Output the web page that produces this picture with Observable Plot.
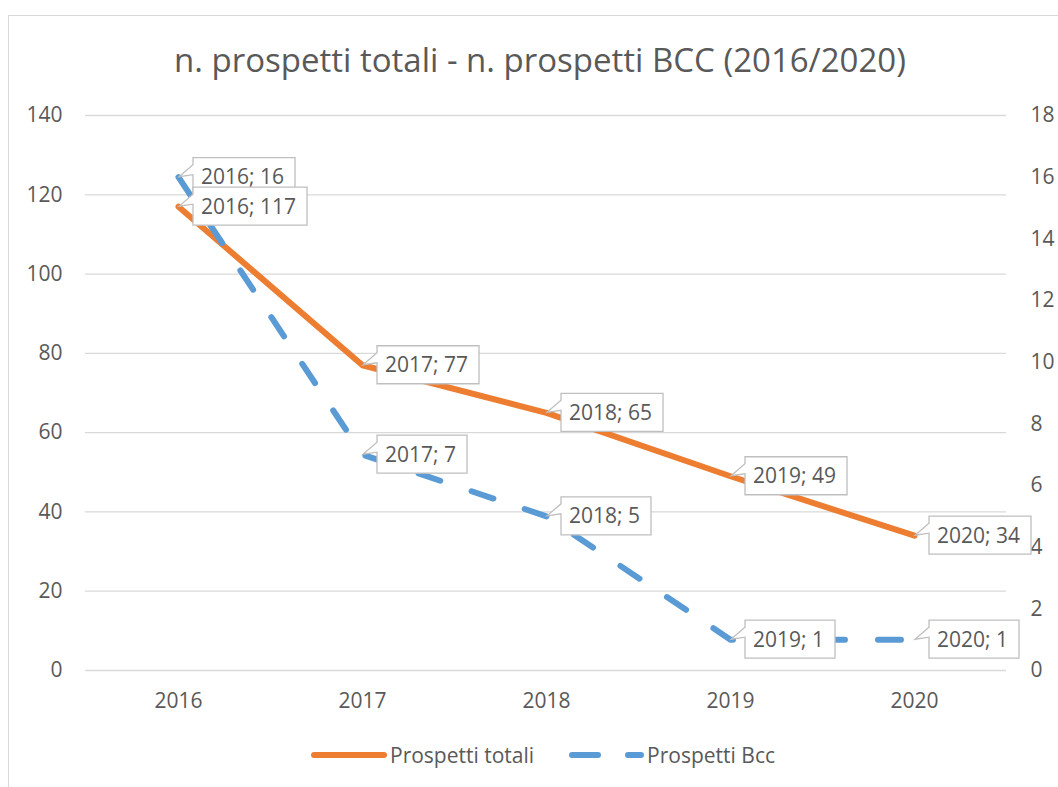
<!DOCTYPE html>
<html><head><meta charset="utf-8">
<script src="https://cdn.jsdelivr.net/npm/d3@7"></script>
<script src="https://cdn.jsdelivr.net/npm/@observablehq/plot@0.6"></script>
<style>
html,body{margin:0;padding:0;background:#fff;}
#wrap{position:relative;width:1058px;height:787px;overflow:hidden;font-family:'Open Sans',sans-serif;color:#595959;}
#border{position:absolute;left:8px;top:15px;width:1100px;height:900px;border:1.3px solid #d9d9d9;box-sizing:border-box;}
#title{position:absolute;left:0;width:1080px;top:43px;text-align:center;font-size:33px;line-height:1;white-space:nowrap;}
#chart{position:absolute;left:0;top:0;}
#legend{position:absolute;left:311px;top:743px;height:24px;display:flex;align-items:center;font-size:21px;line-height:1;white-space:nowrap;}
#legend svg{display:block;}
</style></head>
<body>
<div id="wrap">
  <div id="border"></div>
  <div id="title">n. prospetti totali - n. prospetti BCC (2016/2020)</div>
  <div id="chart"></div>
  <div id="legend"></div>
</div>
<script>
const years = ["2016", "2017", "2018", "2019", "2020"];
const totali = [117, 77, 65, 49, 34];
const bcc = [16, 7, 5, 1, 1];
const leftTicks = [0, 20, 40, 60, 80, 100, 120, 140];
const rightTicks = [0, 2, 4, 6, 8, 10, 12, 14, 16, 18];
const seriesNames = ["Prospetti totali", "Prospetti Bcc"];
const seriesColors = ["#ed7d31", "#5b9bd5"];

const factor = 140 / 18;
const totData = years.map((y, i) => ({year: y, value: totali[i]}));
const bccData = years.map((y, i) => ({year: y, value: bcc[i]}));

const measureCtx = document.createElement("canvas").getContext("2d");
function textWidth(s) { measureCtx.font = "21px 'Open Sans'"; return measureCtx.measureText(s).width; }

function callouts(data, yv) {
  return (index, scales) => {
    const g = d3.create("svg:g").attr("text-anchor", "start");
    for (const d of data) {
      const px = scales.x(d.year), py = scales.y(yv(d));
      const label = `${d.year}; ${d.value}`;
      const w = textWidth(label) + 19, h = 38;
      const bx = px + 15, by = py - 19;
      const path = `M${bx},${by}H${bx + w}V${by + h}H${bx}V${py - 2}L${px + 1},${py}L${bx},${py - 12}Z`;
      g.append("path").attr("d", path).attr("fill", "#fff").attr("stroke", "#bfbfbf").attr("stroke-width", 1.3);
      g.append("text").attr("x", bx + 8).attr("y", py).attr("dy", "0.36em").attr("text-anchor", "start")
        .attr("fill", "#595959").attr("font-size", 21).text(label);
    }
    return g.node();
  };
}

const chart = Plot.plot({
  width: 1058, height: 787,
  marginLeft: 85, marginRight: 52, marginTop: 115, marginBottom: 117,
  style: {fontFamily: "'Open Sans', sans-serif", fontSize: "21px", color: "#595959", background: "transparent", overflow: "visible"},
  x: {type: "point", domain: years, padding: 0.5},
  y: {domain: [0, 140], nice: false},
  marks: [
    Plot.ruleY(leftTicks, {stroke: "#d9d9d9", strokeWidth: 1.3}),
    Plot.axisY({ticks: leftTicks, tickSize: 0, tickPadding: 23, label: null, fontSize: 21}),
    Plot.axisY({anchor: "right", ticks: rightTicks.map(v => v * factor), tickFormat: d => String(Math.round(d / factor)), tickSize: 0, tickPadding: 24, label: null, fontSize: 21}),
    Plot.axisX({tickSize: 0, tickPadding: 23, label: null, fontSize: 21}),
    Plot.line(totData, {x: "year", y: "value", stroke: seriesColors[0], strokeWidth: 6, strokeLinecap: "round", strokeLinejoin: "round"}),
    Plot.line(bccData, {x: "year", y: d => d.value * factor, stroke: seriesColors[1], strokeWidth: 6, strokeDasharray: "23,33", strokeLinecap: "round", strokeLinejoin: "round"}),
    callouts(bccData, d => d.value * factor),
    callouts(totData, d => d.value)
  ]
});
document.getElementById("chart").appendChild(chart);

// legend
const legend = d3.select("#legend");
const item1 = legend.append("div").style("display", "flex").style("align-items", "center");
const s1 = item1.append("svg").attr("width", 76).attr("height", 12);
s1.append("line").attr("x1", 3).attr("x2", 73).attr("y1", 6).attr("y2", 6)
  .attr("stroke", seriesColors[0]).attr("stroke-width", 6).attr("stroke-linecap", "round");
item1.append("span").style("margin-left", "3px").text(seriesNames[0]);
const item2 = legend.append("div").style("display", "flex").style("align-items", "center").style("margin-left", "35px");
const s2 = item2.append("svg").attr("width", 75).attr("height", 12);
s2.append("line").attr("x1", 3).attr("x2", 72).attr("y1", 6).attr("y2", 6)
  .attr("stroke", seriesColors[1]).attr("stroke-width", 6).attr("stroke-linecap", "round").attr("stroke-dasharray", "26,30");
item2.append("span").style("margin-left", "3px").text(seriesNames[1]);
</script>
</body></html>
